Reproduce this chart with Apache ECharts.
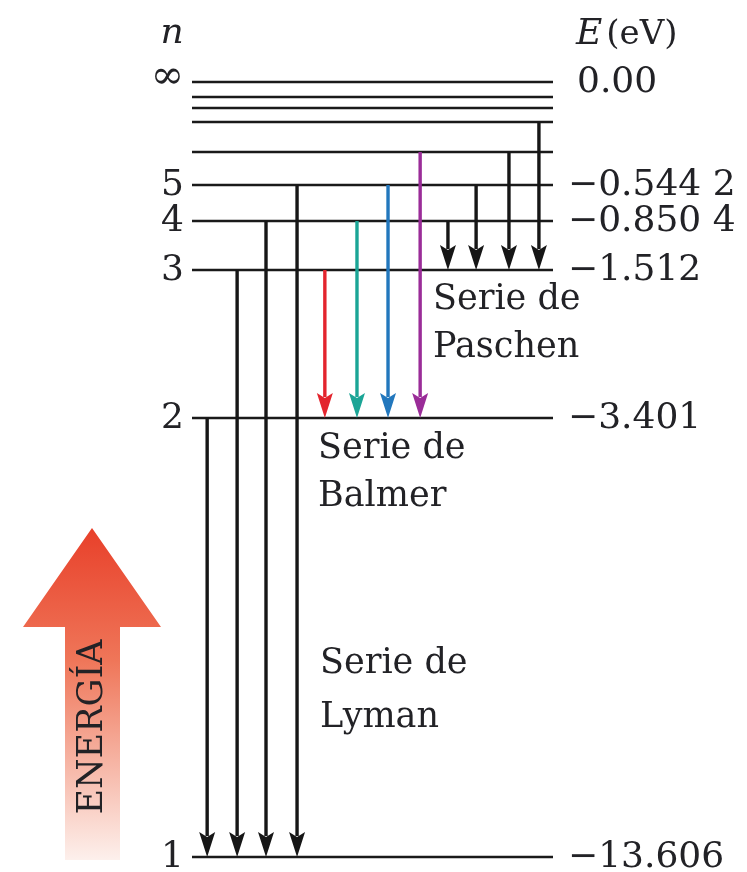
<!DOCTYPE html>
<html>
<head>
<meta charset="utf-8">
<title>Niveles de energía del hidrógeno</title>
<script src="https://cdn.jsdelivr.net/npm/echarts@6/dist/echarts.min.js"></script>
<style>
    html, body {margin: 0; padding: 0; background: #ffffff;}
    #chart {width: 747px; height: 872px;}
</style>
</head>
<body>
<div id="chart"></div>
<script>
"use strict";
// niveles: altura en el esquema (unidades del dibujo, no eV)
var levelN = ['1', '2', '3', '4', '5', '6', '7', '8', '9', '∞'];
var levelHeight = [0, 439, 587, 636, 672, 705, 735, 749, 760, 775];
var levelNLabel = ['1', '2', '3', '4', '5', '', '', '', '', '∞'];
var levelEnergy = ['−13.606', '−3.401', '−1.512', '−0.850 4', '−0.544 2', '', '', '', '', '0.00'];

// transiciones (nivel inicial -> nivel final), columna x en 0..100
var lymanFrom = [2, 3, 4, 5];
var lymanX = [4.2, 12.5, 20.5, 29.1];
var balmerFrom = [3, 4, 5, 6];
var balmerX = [36.8, 45.7, 54.3, 63.2];
var balmerColors = ['#e3242d', '#1ba596', '#2277bd', '#9a2c98'];
var paschenFrom = [4, 5, 6, 7];
var paschenX = [70.9, 78.7, 87.8, 96.1];

var serif = '"DejaVu Serif", "Liberation Serif", serif';
var textColor = '#222226';

var chart = echarts.init(document.getElementById('chart'));

function buildArrows(fromList, xList, toLevel, colors) {
    var out = [];
    for (var i = 0; i < fromList.length; i++) {
        out.push({
            value: [xList[i], levelHeight[fromList[i] - 1], levelHeight[toLevel - 1]],
            color: colors ? colors[i] : '#161616'
        });
    }
    return out;
}

var arrowData = []
    .concat(buildArrows(lymanFrom, lymanX, 1))
    .concat(buildArrows(balmerFrom, balmerX, 2, balmerColors))
    .concat(buildArrows(paschenFrom, paschenX, 3));

var levelData = levelHeight.map(function (h, i) {
    return [h, i];
});

function renderLevel(params, api) {
    var h = api.value(0);
    var idx = api.value(1);
    var p1 = api.coord([0, h]);
    var p2 = api.coord([100, h]);
    var children = [{
        type: 'line',
        shape: {x1: p1[0], y1: p1[1], x2: p2[0], y2: p2[1]},
        style: {stroke: '#1a1a1a', lineWidth: 2.6}
    }];
    if (levelNLabel[idx]) {
        children.push({
            type: 'text',
            x: p1[0] - 8, y: p1[1] + (idx === 9 ? -4 : 1),
            style: {
                text: levelNLabel[idx], fill: textColor,
                font: (idx === 9 ? '40px ' : '36px ') + serif,
                align: 'right', verticalAlign: 'middle',
                textAlign: 'right', textVerticalAlign: 'middle'
            }
        });
    }
    if (levelEnergy[idx]) {
        children.push({
            type: 'text',
            x: p2[0] + 15 + (idx === 9 ? 9 : 0), y: p2[1] + 1,
            style: {
                text: levelEnergy[idx], fill: textColor,
                font: '36px ' + serif,
                align: 'left', verticalAlign: 'middle',
                textAlign: 'left', textVerticalAlign: 'middle'
            }
        });
    }
    return {type: 'group', children: children};
}

function renderArrow(params, api) {
    var item = arrowData[params.dataIndex];
    var x = api.value(0);
    var top = api.coord([x, api.value(1)]);
    var tip = api.coord([x, api.value(2)]);
    var headLen = 25, headW = 8;
    return {
        type: 'group',
        children: [{
            type: 'line',
            shape: {x1: top[0], y1: top[1], x2: tip[0], y2: tip[1] - headLen + 4},
            style: {stroke: item.color, lineWidth: 3.4}
        }, {
            type: 'polygon',
            shape: {points: [
                [tip[0], tip[1]],
                [tip[0] - headW, tip[1] - headLen],
                [tip[0], tip[1] - headLen + 5],
                [tip[0] + headW, tip[1] - headLen]
            ]},
            style: {fill: item.color}
        }]
    };
}

var option = {
    animation: false,
    grid: {left: 192, right: 194, top: 82, bottom: 15},
    xAxis: {type: 'value', min: 0, max: 100, show: false},
    yAxis: {type: 'value', min: 0, max: 775, show: false},
    graphic: [
        {   // flecha de ENERGÍA
            type: 'polygon',
            shape: {points: [[92, 528], [161, 627], [120, 627], [120, 860], [65, 860], [65, 627], [23, 627]]},
            style: {
                fill: {
                    type: 'linear', x: 0, y: 0, x2: 0, y2: 1,
                    colorStops: [
                        {offset: 0, color: '#e8402a'},
                        {offset: 0.4, color: '#ef7659'},
                        {offset: 1, color: '#fdf0ec'}
                    ]
                }
            }
        },
        {
            type: 'text', x: 93, y: 727, rotation: Math.PI / 2,
            style: {
                text: 'ENERGÍA', fill: textColor, font: '35px ' + serif,
                align: 'center', verticalAlign: 'middle',
                textAlign: 'center', textVerticalAlign: 'middle'
            }
        },
        {
            type: 'text', x: 172, y: 34,
            style: {
                text: 'n', fill: textColor, font: 'italic 36px ' + serif,
                align: 'center', verticalAlign: 'middle',
                textAlign: 'center', textVerticalAlign: 'middle'
            }
        },
        {
            type: 'text', x: 576, y: 35,
            style: {
                text: '{i|E}(eV)', fill: textColor, font: '34px ' + serif,
                rich: {i: {fontStyle: 'italic', fontSize: 36, fontFamily: serif, fill: textColor, color: textColor, padding: [0, 4, 0, 0]}},
                align: 'left', verticalAlign: 'middle',
                textAlign: 'left', textVerticalAlign: 'middle'
            }
        },
        {
            type: 'text', x: 433, y: 276,
            style: {
                text: 'Serie de\nPaschen', fill: textColor, font: '35px ' + serif,
                lineHeight: 48, align: 'left', verticalAlign: 'top',
                textAlign: 'left', textVerticalAlign: 'top'
            }
        },
        {
            type: 'text', x: 318, y: 425,
            style: {
                text: 'Serie de\nBalmer', fill: textColor, font: '35px ' + serif,
                lineHeight: 48, align: 'left', verticalAlign: 'top',
                textAlign: 'left', textVerticalAlign: 'top'
            }
        },
        {
            type: 'text', x: 320, y: 637,
            style: {
                text: 'Serie de\nLyman', fill: textColor, font: '35px ' + serif,
                lineHeight: 54, align: 'left', verticalAlign: 'top',
                textAlign: 'left', textVerticalAlign: 'top'
            }
        }
    ],
    series: [
        {
            name: 'niveles',
            type: 'custom',
            renderItem: renderLevel,
            data: levelData,
            silent: true
        },
        {
            name: 'transiciones',
            type: 'custom',
            renderItem: renderArrow,
            data: arrowData.map(function (d) { return d.value; }),
            silent: true,
            z: 3
        }
    ]
};

chart.setOption(option);
</script>
</body>
</html>
